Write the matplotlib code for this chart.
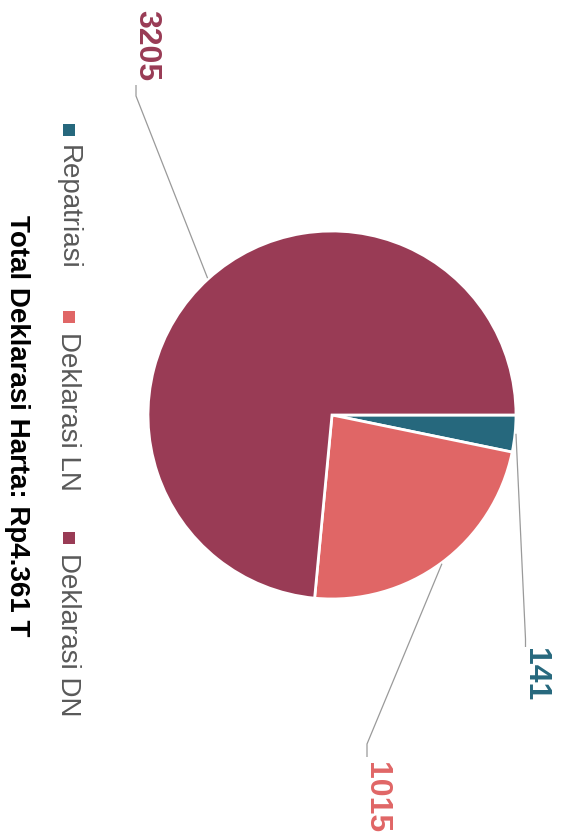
import numpy as np
import matplotlib

matplotlib.use("Agg")
import matplotlib.pyplot as plt  # noqa: E402
from matplotlib.patches import Rectangle  # noqa: E402

plt.rcParams["font.family"] = ["Liberation Sans", "DejaVu Sans"]

# === Data ===
categories = ["Repatriasi", "Deklarasi LN", "Deklarasi DN"]
values = [141, 1015, 3205]
colors = ["#26687d", "#e06666", "#993b55"]
title_text = "Total Deklarasi Harta: Rp4.361 T"

# === Layout (pixels of the 562x837 image) ===
W, H, DPI = 562, 837, 100
CX, CY, R = 332, 416, 184  # pie centre and radius

# label anchors: (elbow, end of leader, label centre), in pixels
label_layout = [
    ((525.5, 640), (525.5, 648), (535, 675)),
    ((367, 745), (367, 758), (376, 798)),
    ((136, 97), (136, 86), (146, 46)),
]


def px_to_data(x, y):
    return (x - CX) / R, (CY - y) / R


fig = plt.figure(figsize=(W / DPI, H / DPI), dpi=DPI)
ax = fig.add_axes([0, 0, 1, 1])
ax.pie(
    values,
    colors=colors,
    startangle=0,
    counterclock=False,
    radius=1.0,
    wedgeprops={"edgecolor": "white", "linewidth": 2},
)
ax.set_xlim(-CX / R, (W - CX) / R)
ax.set_ylim(-(H - CY) / R, CY / R)
ax.set_aspect("equal", adjustable="box")
ax.axis("off")

# leader lines + value labels (chart is rotated 90 degrees clockwise)
total = float(sum(values))
cumulative = np.cumsum(values)
for i, value in enumerate(values):
    mid = -np.deg2rad((cumulative[i] - value / 2) / total * 360)
    start = (1.005 * np.cos(mid), 1.005 * np.sin(mid))
    elbow_px, end_px, text_px = label_layout[i]
    elbow = px_to_data(*elbow_px)
    end = px_to_data(*end_px)
    ax.plot(
        [start[0], elbow[0], end[0]],
        [start[1], elbow[1], end[1]],
        color="#9a9a9a",
        linewidth=0.9,
        solid_capstyle="butt",
    )
    tx, ty = px_to_data(*text_px)
    ax.text(
        tx, ty, str(value),
        rotation=-90,
        ha="center",
        va="center",
        fontsize=23,
        fontweight="bold",
        color=colors[i],
    )

# title
fig.text(
    17 / W, 1 - 426 / H, title_text,
    rotation=-90,
    ha="center",
    va="center",
    fontsize=20,
    fontweight="bold",
    color="black",
)

# legend, laid out top to bottom
fig.canvas.draw()
renderer = fig.canvas.get_renderer()
legend_x = 68
marker_size = 12
y_cursor = 125
for label, color in zip(categories, colors):
    fig.patches.append(
        Rectangle(
            ((legend_x + 1 - marker_size / 2) / W, 1 - (y_cursor + marker_size) / H),
            marker_size / W,
            marker_size / H,
            transform=fig.transFigure,
            facecolor=color,
            edgecolor="none",
        )
    )
    text_top = y_cursor + marker_size + 8
    txt = fig.text(
        legend_x / W, 1 - text_top / H, label,
        rotation=-90,
        ha="center",
        va="top",
        fontsize=20,
        color="#595959",
    )
    bbox = txt.get_window_extent(renderer)
    y_cursor = text_top + bbox.height + 42

fig.savefig("out.png", dpi=DPI)
plt.close(fig)
